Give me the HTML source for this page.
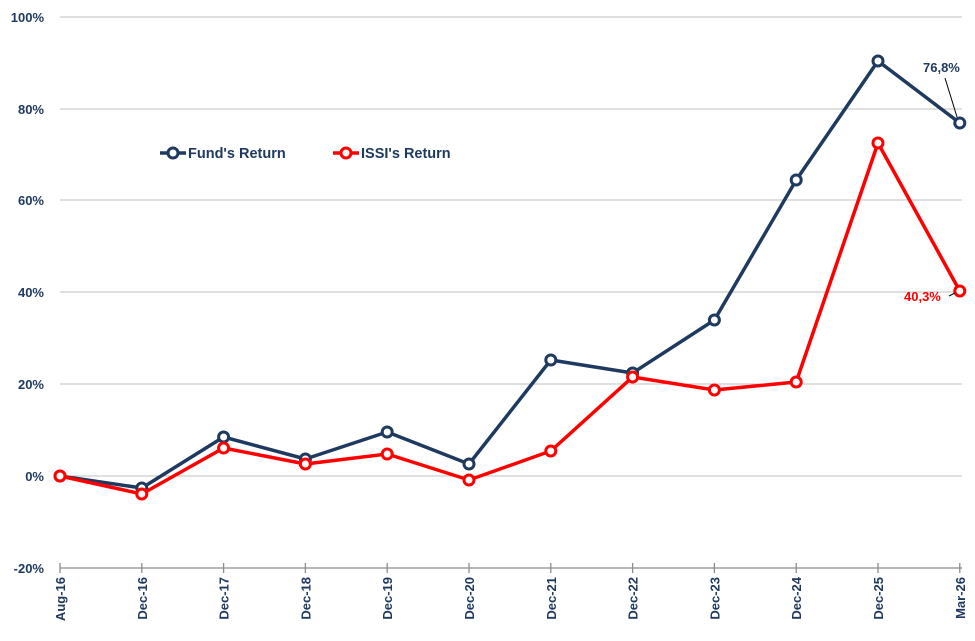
<!DOCTYPE html>
<html><head><meta charset="utf-8"><style>
body{margin:0;background:#fff}
text{font-family:"Liberation Sans",Arial,sans-serif;font-weight:bold;fill:#1f3a60}
</style></head><body>
<svg width="975" height="636" xmlns="http://www.w3.org/2000/svg">
<g stroke="#bfbfbf" stroke-width="1">
<line x1="60" y1="17" x2="962" y2="17"/>
<line x1="60" y1="109" x2="962" y2="109"/>
<line x1="60" y1="200" x2="962" y2="200"/>
<line x1="60" y1="292" x2="962" y2="292"/>
<line x1="60" y1="384" x2="962" y2="384"/>
<line x1="60" y1="476" x2="962" y2="476"/>
</g>
<g stroke="#8c8c8c" stroke-width="1.3">
<line x1="60" y1="568" x2="962" y2="568"/>
<line x1="60" y1="563" x2="60" y2="573"/><line x1="141.8" y1="563" x2="141.8" y2="573"/><line x1="223.6" y1="563" x2="223.6" y2="573"/><line x1="305.4" y1="563" x2="305.4" y2="573"/><line x1="387.2" y1="563" x2="387.2" y2="573"/><line x1="469" y1="563" x2="469" y2="573"/><line x1="550.8" y1="563" x2="550.8" y2="573"/><line x1="632.6" y1="563" x2="632.6" y2="573"/><line x1="714.4" y1="563" x2="714.4" y2="573"/><line x1="796.2" y1="563" x2="796.2" y2="573"/><line x1="878" y1="563" x2="878" y2="573"/><line x1="959.8" y1="563" x2="959.8" y2="573"/>
</g>
<g font-size="13" text-anchor="end">
<text x="44" y="22">100%</text><text x="44" y="114">80%</text><text x="44" y="205">60%</text><text x="44" y="297">40%</text><text x="44" y="389">20%</text><text x="44" y="481">0%</text><text x="44" y="573">-20%</text>
</g>
<g font-size="13" text-anchor="end">
<text transform="translate(65,577) rotate(-90)">Aug-16</text>
<text transform="translate(146.8,577) rotate(-90)">Dec-16</text>
<text transform="translate(228.6,577) rotate(-90)">Dec-17</text>
<text transform="translate(310.4,577) rotate(-90)">Dec-18</text>
<text transform="translate(392.2,577) rotate(-90)">Dec-19</text>
<text transform="translate(474,577) rotate(-90)">Dec-20</text>
<text transform="translate(555.8,577) rotate(-90)">Dec-21</text>
<text transform="translate(637.6,577) rotate(-90)">Dec-22</text>
<text transform="translate(719.4,577) rotate(-90)">Dec-23</text>
<text transform="translate(801.2,577) rotate(-90)">Dec-24</text>
<text transform="translate(883,577) rotate(-90)">Dec-25</text>
<text transform="translate(964.8,577) rotate(-90)">Mar-26</text>
</g>
<g fill="none" stroke="#1f3a60" stroke-width="3.5" stroke-linejoin="round">
<polyline points="60,476 141.8,488 223.6,437 305.4,459 387.2,432 469,464 550.8,360 632.6,373 714.4,320 796.2,180 878,61 959.8,123"/>
</g>
<g fill="#fff" stroke="#1f3a60" stroke-width="3">
<circle cx="60" cy="476" r="5"/><circle cx="141.8" cy="488" r="5"/><circle cx="223.6" cy="437" r="5"/><circle cx="305.4" cy="459" r="5"/><circle cx="387.2" cy="432" r="5"/><circle cx="469" cy="464" r="5"/><circle cx="550.8" cy="360" r="5"/><circle cx="632.6" cy="373" r="5"/><circle cx="714.4" cy="320" r="5"/><circle cx="796.2" cy="180" r="5"/><circle cx="878" cy="61" r="5"/><circle cx="959.8" cy="123" r="5"/>
</g>
<g fill="none" stroke="#ff0000" stroke-width="3.5" stroke-linejoin="round">
<polyline points="60,476 141.8,494 223.6,448 305.4,464 387.2,454 469,480 550.8,451 632.6,377 714.4,390 796.2,382 878,143 959.8,291"/>
</g>
<g fill="#fff" stroke="#ff0000" stroke-width="3">
<circle cx="60" cy="476" r="5"/><circle cx="141.8" cy="494" r="5"/><circle cx="223.6" cy="448" r="5"/><circle cx="305.4" cy="464" r="5"/><circle cx="387.2" cy="454" r="5"/><circle cx="469" cy="480" r="5"/><circle cx="550.8" cy="451" r="5"/><circle cx="632.6" cy="377" r="5"/><circle cx="714.4" cy="390" r="5"/><circle cx="796.2" cy="382" r="5"/><circle cx="878" cy="143" r="5"/><circle cx="959.8" cy="291" r="5"/>
</g>
<line x1="945" y1="78" x2="957" y2="117" stroke="#000" stroke-width="1"/>
<text x="923" y="72" font-size="13">76,8%</text>
<line x1="949" y1="296" x2="955" y2="293" stroke="#000" stroke-width="1"/>
<text x="904" y="301" font-size="13" style="fill:#ff0000">40,3%</text>
<line x1="160" y1="153" x2="186" y2="153" stroke="#1f3a60" stroke-width="3.5"/>
<circle cx="173" cy="153" r="5" fill="#fff" stroke="#1f3a60" stroke-width="3"/>
<text x="188" y="158" font-size="14.5">Fund's Return</text>
<line x1="333" y1="153" x2="359" y2="153" stroke="#ff0000" stroke-width="3.5"/>
<circle cx="346" cy="153" r="5" fill="#fff" stroke="#ff0000" stroke-width="3"/>
<text x="361" y="158" font-size="14.5">ISSI's Return</text>
</svg>
</body></html>
